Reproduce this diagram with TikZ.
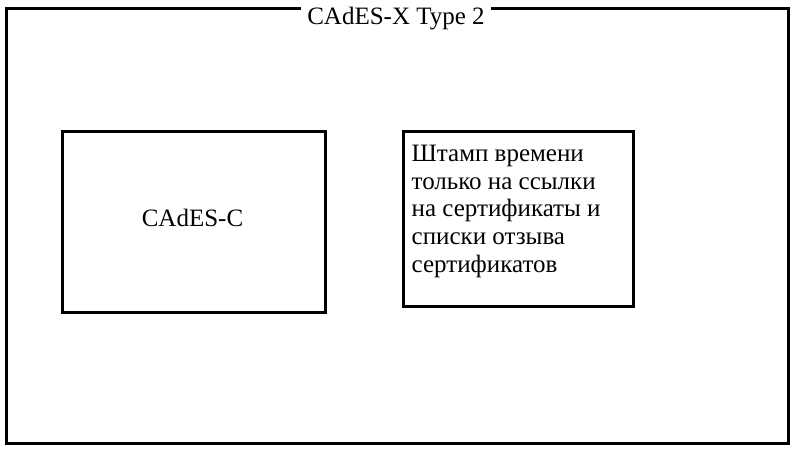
\documentclass[tikz,border=0pt]{standalone}
\usepackage{fontspec}
\setmainfont{Liberation Serif}
\begin{document}
\begin{tikzpicture}[x=1pt,y=-1pt,
  frame/.style={draw=black,line width=3pt,inner sep=0pt,fill=none},
  txt/.style={font={\fontsize{25}{27.8}\selectfont},inner sep=0pt,text=black}]
\useasboundingbox (0,0) rectangle (800,460);
\node[frame,minimum width=782pt,minimum height=434pt] (outer) at (397,226) {};
\node[txt,fill=white,inner xsep=6.5pt,inner ysep=3pt,anchor=base] (title) at (396,25) {CAdES-X Type 2};
\node[frame,minimum width=263pt,minimum height=181pt] (cbox) at (193.5,221.5) {};
\node[txt,anchor=base] (ctext) at (192.5,226) {CAdES-C};
\node[frame,minimum width=230pt,minimum height=175pt] (tbox) at (518,218.5) {};
\node[txt,anchor=north west,align=left] (ttext) at (411.5,144.8) {Штамп времени\\только на ссылки\\на сертификаты и\\списки отзыва\\сертификатов};
\end{tikzpicture}
\end{document}
